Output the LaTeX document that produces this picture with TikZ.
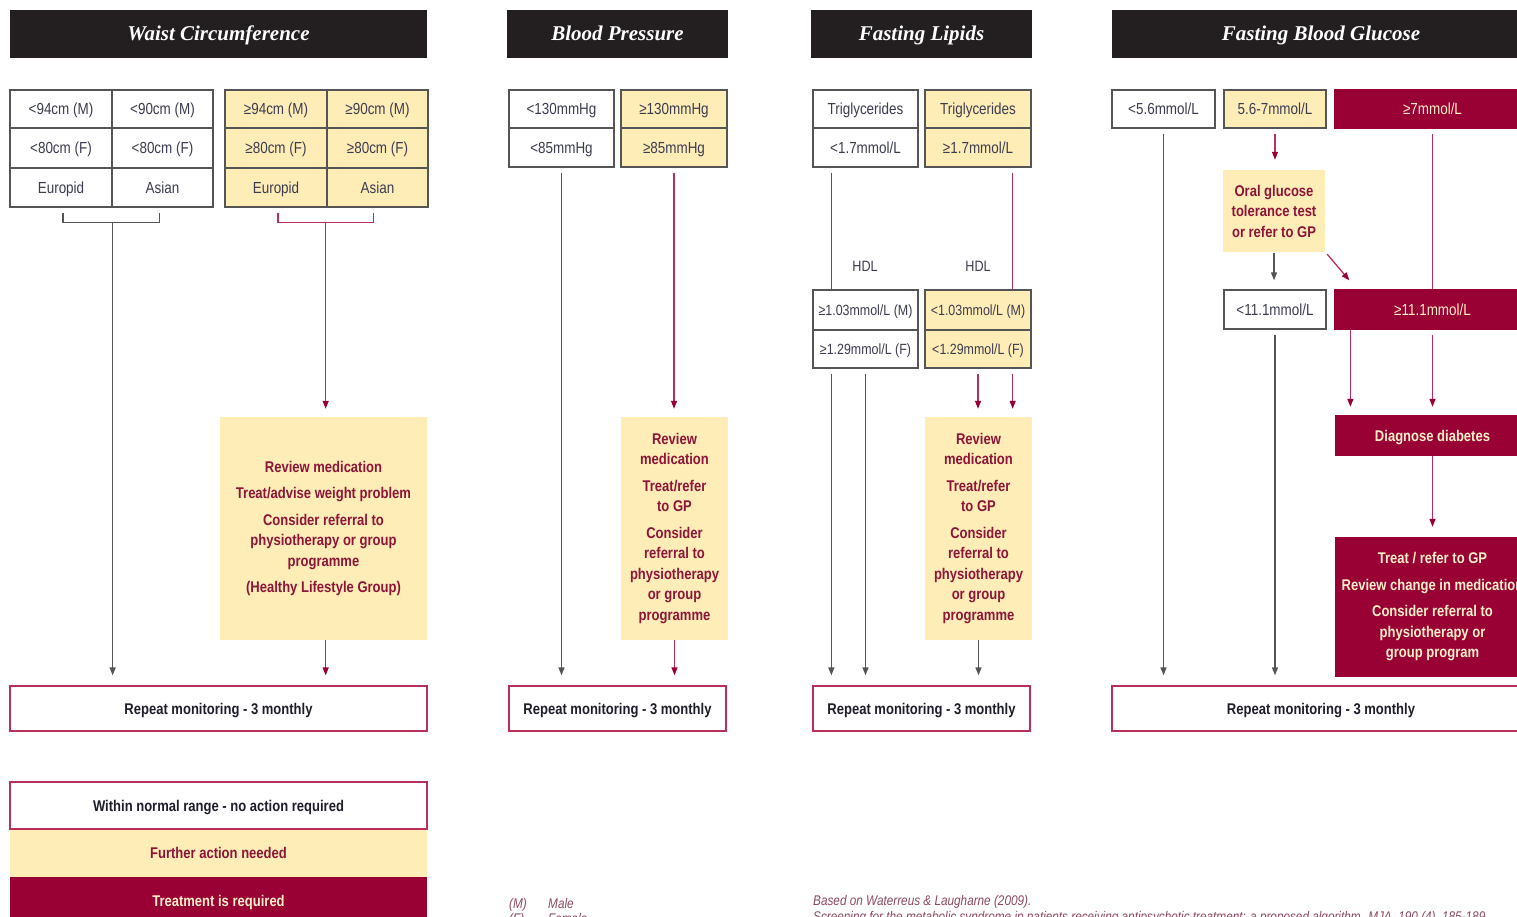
\documentclass[tikz,border=0pt]{standalone}
\usepackage{fontspec}
\setmainfont{Liberation Sans}[FakeStretch=0.84]
\newfontfamily\titlefont{Liberation Serif}
\usetikzlibrary{arrows.meta,calc}
\definecolor{headbg}{HTML}{231F20}
\definecolor{cream}{HTML}{FFEDB8}
\definecolor{maroon}{HTML}{990033}
\definecolor{crimson}{HTML}{B8305A}
\definecolor{lineg}{HTML}{555555}
\definecolor{celltxt}{HTML}{3C3C50}
\definecolor{acttxt}{HTML}{8C1538}
\definecolor{paletxt}{HTML}{FFEFC8}
\definecolor{reptxt}{HTML}{1E1E2A}
\definecolor{foottxt}{HTML}{8B4A62}
\tikzset{
  one/.style={text height=13pt, text depth=1.5pt},
  tcell/.style={draw=lineg, line width=1.3pt, inner sep=0pt, text=celltxt, one, font=\fontsize{16}{18}\selectfont},
  wcell/.style={tcell, fill=white},
  ycell/.style={tcell, fill=cream},
  small/.style={font=\fontsize{14.8}{18}\selectfont},
  rcell/.style={fill=maroon, draw=maroon, line width=1.3pt, inner sep=0pt, text=paletxt, one, font=\fontsize{16}{18}\selectfont},
  act/.style={fill=cream, inner sep=0pt, text=acttxt, align=center, font=\bfseries\fontsize{15.5}{20.5}\selectfont},
  ract/.style={fill=maroon, inner sep=0pt, text=paletxt, align=center, font=\bfseries\fontsize{15.5}{20.5}\selectfont},
  rep/.style={draw=crimson, line width=1.3pt, fill=white, inner sep=0pt, text=reptxt, one, font=\bfseries\fontsize{15.5}{18}\selectfont},
  head/.style={fill=headbg, inner sep=0pt, text=white, text height=17pt, text depth=3pt, font=\titlefont\bfseries\itshape\fontsize{21}{24}\selectfont},
  lbl/.style={text=celltxt, font=\fontsize{15}{18}\selectfont},
  gline/.style={draw=lineg, line width=1.3pt},
  rline/.style={draw=crimson, line width=1.3pt},
  garr/.style={gline, -{Triangle[length=8pt,width=6pt]}},
  rarr/.style={rline, -{Triangle[length=8pt,width=6pt,color=maroon]}},
  foot/.style={text=foottxt, anchor=base west, font=\itshape\fontsize{14}{16}\selectfont, inner sep=0pt}
}
% style, name, x1, y1, x2, y2, text
\newcommand\cellbox[7]{\node[#1, minimum width={(#5-#3)*1pt}, minimum height={(#6-#4)*1pt}] (#2) at ({(#3+#5)/2},{(#4+#6)/2}) {#7};}
\begin{document}
\begin{tikzpicture}[x=1pt,y=-1pt]
\useasboundingbox (0,0) rectangle (1517,917);
\clip (0,0) rectangle (1517,917);
\fill[white] (0,0) rectangle (1517,917);

% headers
\cellbox{head}{hw}{10}{10}{427}{58}{Waist Circumference}
\cellbox{head}{hb}{507}{10}{728}{58}{Blood Pressure}
\cellbox{head}{hl}{811}{10}{1032}{58}{Fasting Lipids}
\cellbox{head}{hg}{1112}{10}{1530}{58}{Fasting Blood Glucose}

% ---------- waist ----------
\cellbox{wcell}{w11}{10}{90}{112}{128}{<94cm (M)}
\cellbox{wcell}{w12}{112}{90}{213}{128}{<90cm (M)}
\cellbox{wcell}{w21}{10}{128}{112}{168}{<80cm (F)}
\cellbox{wcell}{w22}{112}{128}{213}{168}{<80cm (F)}
\cellbox{wcell}{w31}{10}{168}{112}{207}{Europid}
\cellbox{wcell}{w32}{112}{168}{213}{207}{Asian}
\cellbox{ycell}{w13}{225}{90}{327}{128}{≥94cm (M)}
\cellbox{ycell}{w14}{327}{90}{428}{128}{≥90cm (M)}
\cellbox{ycell}{w23}{225}{128}{327}{168}{≥80cm (F)}
\cellbox{ycell}{w24}{327}{128}{428}{168}{≥80cm (F)}
\cellbox{ycell}{w33}{225}{168}{327}{207}{Europid}
\cellbox{ycell}{w34}{327}{168}{428}{207}{Asian}

\cellbox{act}{wact}{220}{417}{427}{640}{Review medication\\[6pt]Treat/advise weight problem\\[6pt]Consider referral to\\physiotherapy or group\\programme\\[6pt](Healthy Lifestyle Group)}
\cellbox{rep}{wrep}{10}{686}{427}{731}{Repeat monitoring - 3 monthly}

\coordinate (wjL) at ($(w31.south east)+(0,15)$);
\coordinate (wjR) at ($(w33.south east)+(-2,15)$);
\draw[gline] ($(w31.south)+(2,5)$) -- ($(w31.south)+(2,15)$) -| ($(w32.south)+(-3,5)$);
\draw[rline] ($(w33.south)+(2,5)$) -- ($(w33.south)+(2,15)$) -| ($(w34.south)+(-4,5)$);
\draw[garr, shorten >=10pt] (wjL) -- (wjL |- wrep.north);
\draw[rarr, shorten >=8pt] (wjR) -- (wjR |- wact.north);
\draw[rarr, shorten >=10pt] (wjR |- wact.south) -- (wjR |- wrep.north);

% ---------- blood pressure ----------
\cellbox{wcell}{b11}{509}{90}{614}{128}{<130mmHg}
\cellbox{wcell}{b21}{509}{128}{614}{167}{<85mmHg}
\cellbox{ycell}{b12}{621}{90}{727}{128}{≥130mmHg}
\cellbox{ycell}{b22}{621}{128}{727}{167}{≥85mmHg}
\cellbox{act}{bact}{621}{417}{728}{640}{Review\\medication\\[6pt]Treat/refer\\to GP\\[6pt]Consider\\referral to\\physiotherapy\\or group\\programme}
\cellbox{rep}{brep}{509}{686}{726}{731}{Repeat monitoring - 3 monthly}
\draw[garr, shorten >=10pt] ($(b21.south)+(0,5)$) -- (b21.south |- brep.north);
\draw[rarr, shorten >=8pt] ($(b22.south)+(0,5)$) -- (b22.south |- bact.north);
\draw[rarr, shorten >=10pt] (bact.south) -- (bact.south |- brep.north);

% ---------- lipids ----------
\cellbox{wcell}{l11}{813}{90}{918}{128}{Triglycerides}
\cellbox{wcell}{l21}{813}{128}{918}{167}{<1.7mmol/L}
\cellbox{ycell}{l12}{925}{90}{1031}{128}{Triglycerides}
\cellbox{ycell}{l22}{925}{128}{1031}{167}{≥1.7mmol/L}
\node[lbl] (hdl1) at (865,266) {HDL};
\node[lbl] (hdl2) at (978,266) {HDL};
\cellbox{wcell,small}{h11}{813}{290}{918}{330}{≥1.03mmol/L (M)}
\cellbox{wcell,small}{h21}{813}{330}{918}{368}{≥1.29mmol/L (F)}
\cellbox{ycell,small}{h12}{925}{290}{1031}{330}{<1.03mmol/L (M)}
\cellbox{ycell,small}{h22}{925}{330}{1031}{368}{<1.29mmol/L (F)}
\cellbox{act}{lact}{925}{417}{1032}{640}{Review\\medication\\[6pt]Treat/refer\\to GP\\[6pt]Consider\\referral to\\physiotherapy\\or group\\programme}
\cellbox{rep}{lrep}{813}{686}{1030}{731}{Repeat monitoring - 3 monthly}
\coordinate (lxa) at ($(l21.south west)+(19,5)$);
\coordinate (lxb) at ($(l22.south east)+(-19,5)$);
\draw[gline] (lxa) -- (lxa |- h11.north);
\draw[rline] (lxb) -- (lxb |- h12.north);
\coordinate (lxc) at ($(h21.south west)+(19,5)$);
\coordinate (lxd) at ($(h21.south)+(0,5)$);
\coordinate (lxe) at ($(h22.south)+(0,5)$);
\coordinate (lxf) at ($(h22.south east)+(-19,5)$);
\draw[garr, shorten >=10pt] (lxc) -- (lxc |- lrep.north);
\draw[garr, shorten >=10pt] (lxd) -- (lxd |- lrep.north);
\draw[rarr, shorten >=8pt] (lxe) -- (lxe |- lact.north);
\draw[rarr, shorten >=8pt] (lxf) -- (lxf |- lact.north);
\draw[garr, shorten >=10pt] (lact.south) -- (lact.south |- lrep.north);

% ---------- glucose ----------
\cellbox{wcell}{g1}{1112}{90}{1215}{128}{<5.6mmol/L}
\cellbox{ycell}{g2}{1224}{90}{1326}{128}{5.6-7mmol/L}
\cellbox{rcell}{g3}{1335}{90}{1530}{128}{≥7mmol/L}
\cellbox{act}{gogtt}{1223}{170}{1325}{252}{Oral glucose\\tolerance test\\or refer to GP}
\cellbox{wcell}{g4}{1224}{290}{1326}{329}{<11.1mmol/L}
\cellbox{rcell}{g5}{1335}{290}{1530}{329}{≥11.1mmol/L}
\cellbox{ract,one}{gdiag}{1335}{415}{1530}{456}{Diagnose diabetes}
\cellbox{ract}{gtreat}{1335}{537}{1530}{677}{Treat / refer to GP\\[6pt]Review change in medication\\[6pt]Consider referral to\\physiotherapy or\\group program}
\cellbox{rep}{grep}{1112}{686}{1530}{731}{Repeat monitoring - 3 monthly}

\draw[garr, shorten >=10pt] ($(g1.south)+(0,5)$) -- (g1.south |- grep.north);
\draw[rarr, shorten >=10pt] ($(g2.south)+(0,5)$) -- (g2.south |- gogtt.north);
\draw[garr, shorten >=9pt, shorten <=1pt] (gogtt.south) -- (gogtt.south |- g4.north);
\draw[rarr] ($(gogtt.south east)+(2,2)$) -- ($(g5.north west)+(15,-9)$);
\draw[rline] ($(g3.south)+(0,5)$) -- (g5.north);
\draw[garr, shorten >=10pt] ($(g4.south)+(0,5)$) -- (g4.south |- grep.north);
\coordinate (gxa) at ($(g5.south west)+(16,0)$);
\draw[rarr, shorten >=8pt] (gxa) -- (gxa |- gdiag.north);
\draw[rarr, shorten >=8pt] ($(g5.south)+(0,5)$) -- (g5.south |- gdiag.north);
\draw[rarr, shorten >=10pt] (gdiag.south) -- (gtreat.north);

% ---------- legend ----------
\cellbox{act,one}{leg2}{10}{829}{427}{877}{Further action needed}
\cellbox{ract,one}{leg3}{10}{877}{427}{925}{Treatment is required}
\cellbox{rep}{leg1}{10}{782}{427}{829}{Within normal range - no action required}

% ---------- footnotes ----------
\node[foot] (fm) at (509,908) {(M)};
\node[foot] (fmale) at (548,908) {Male};
\node[foot] (ff) at (509,923) {(F)};
\node[foot] (ffem) at (548,923) {Female};
\node[foot] (cite1) at (813,905) {Based on Waterreus \& Laugharne (2009).};
\node[foot] (cite2) at (813,921) {Screening for the metabolic syndrome in patients receiving antipsychotic treatment: a proposed algorithm. MJA, 190 (4), 185-189.};
\end{tikzpicture}
\end{document}
